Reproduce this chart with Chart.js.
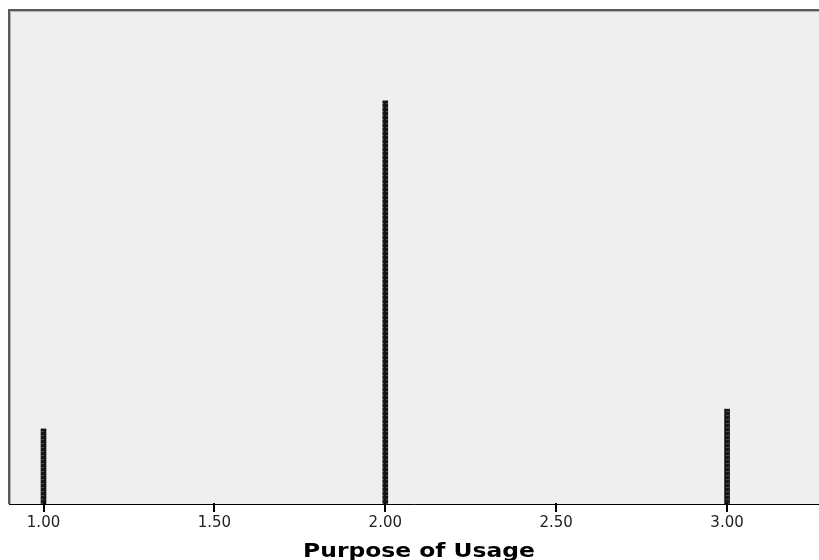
<!DOCTYPE html>
<html>
<head>
<meta charset="utf-8">
<script src="https://cdn.jsdelivr.net/npm/chart.js@4"></script>
<style>
  html, body { margin: 0; padding: 0; background: #ffffff; }
  #wrap { width: 819px; height: 560px; }
</style>
</head>
<body>
<div id="wrap"><canvas id="usageChart" width="819" height="560"></canvas></div>
<script>
// values
const purposeValues = [1, 2, 3];
const purposeCounts = [19, 102, 24];
const tickValues = [1.0, 1.5, 2.0, 2.5, 3.0];
const axisTitle = "Purpose of Usage";

// striped dark texture like the SPSS bars
function makeBarPattern() {
    const c = document.createElement("canvas");
    c.width = 5; c.height = 4;
    const g = c.getContext("2d");
    g.fillStyle = "#151515";
    g.fillRect(0, 0, 5, 4);
    g.fillStyle = "#4a4a4a";
    g.fillRect(1, 3, 3, 1);
    return g.createPattern(c, "repeat");
}

// background + frame of the plot area, tick marks and axis title
const framePlugin = {
    id: "frame",
    beforeDatasetsDraw(chart) {
        const a = chart.chartArea, ctx = chart.ctx;
        ctx.save();
        ctx.fillStyle = "#efefef";
        ctx.fillRect(a.left, a.top, a.right - a.left, a.bottom - a.top);
        ctx.restore();
    },
    afterDraw(chart) {
        const a = chart.chartArea, ctx = chart.ctx;
        const xs = chart.scales.x;
        ctx.save();
        ctx.strokeStyle = "#5a5a5a";
        ctx.lineWidth = 2;
        ctx.beginPath();
        ctx.moveTo(a.left, a.bottom);
        ctx.lineTo(a.left, a.top);
        ctx.lineTo(a.right, a.top);
        ctx.stroke();
        ctx.strokeStyle = "#b0b0b0";
        ctx.lineWidth = 1;
        ctx.beginPath();
        ctx.moveTo(a.left + 1.5, a.bottom);
        ctx.lineTo(a.left + 1.5, a.top + 1.5);
        ctx.lineTo(a.right, a.top + 1.5);
        ctx.stroke();
        // tick marks below the axis line
        ctx.fillStyle = "#000";
        tickValues.forEach(v => {
            const px = Math.round(xs.getPixelForValue(v));
            ctx.fillRect(px - 1, a.bottom - 1, 2, 9);
        });
        // axis title, drawn a bit wide like the original
        ctx.font = "bold 19.5px 'DejaVu Sans'";
        ctx.textAlign = "center";
        ctx.textBaseline = "alphabetic";
        ctx.translate(419, 557);
        ctx.scale(1.2, 1);
        ctx.fillText(axisTitle, 0, 0);
        ctx.restore();
    }
};

const ctx = document.getElementById("usageChart").getContext("2d");
const chartObject = new Chart(ctx, {
    type: "bar",
    data: {
        datasets: [{
            data: purposeValues.map((v, i) => ({ x: v, y: purposeCounts[i] })),
            backgroundColor: makeBarPattern(),
            borderWidth: 0,
            barThickness: 5
        }]
    },
    options: {
        responsive: false,
        animation: false,
        layout: { padding: { left: 9, top: 10, right: 0, bottom: 0 } },
        plugins: {
            legend: { display: false },
            tooltip: { enabled: false }
        },
        scales: {
            x: {
                type: "linear",
                offset: false,
                min: 0.899,
                max: 3.269,
                afterBuildTicks: s => { s.ticks = tickValues.map(v => ({ value: v })); },
                afterFit: s => { s.height = 56; },
                grid: { offset: false, drawOnChartArea: false, drawTicks: false },
                border: { display: true, color: "#000", width: 1 },
                ticks: {
                    autoSkip: false,
                    maxRotation: 0,
                    padding: 10,
                    color: "#222",
                    font: { family: "DejaVu Sans", size: 15 },
                    callback: v => Number(v).toFixed(2)
                }
            },
            y: {
                display: false,
                min: 0,
                max: 125
            }
        }
    },
    plugins: [framePlugin]
});
</script>
</body>
</html>
